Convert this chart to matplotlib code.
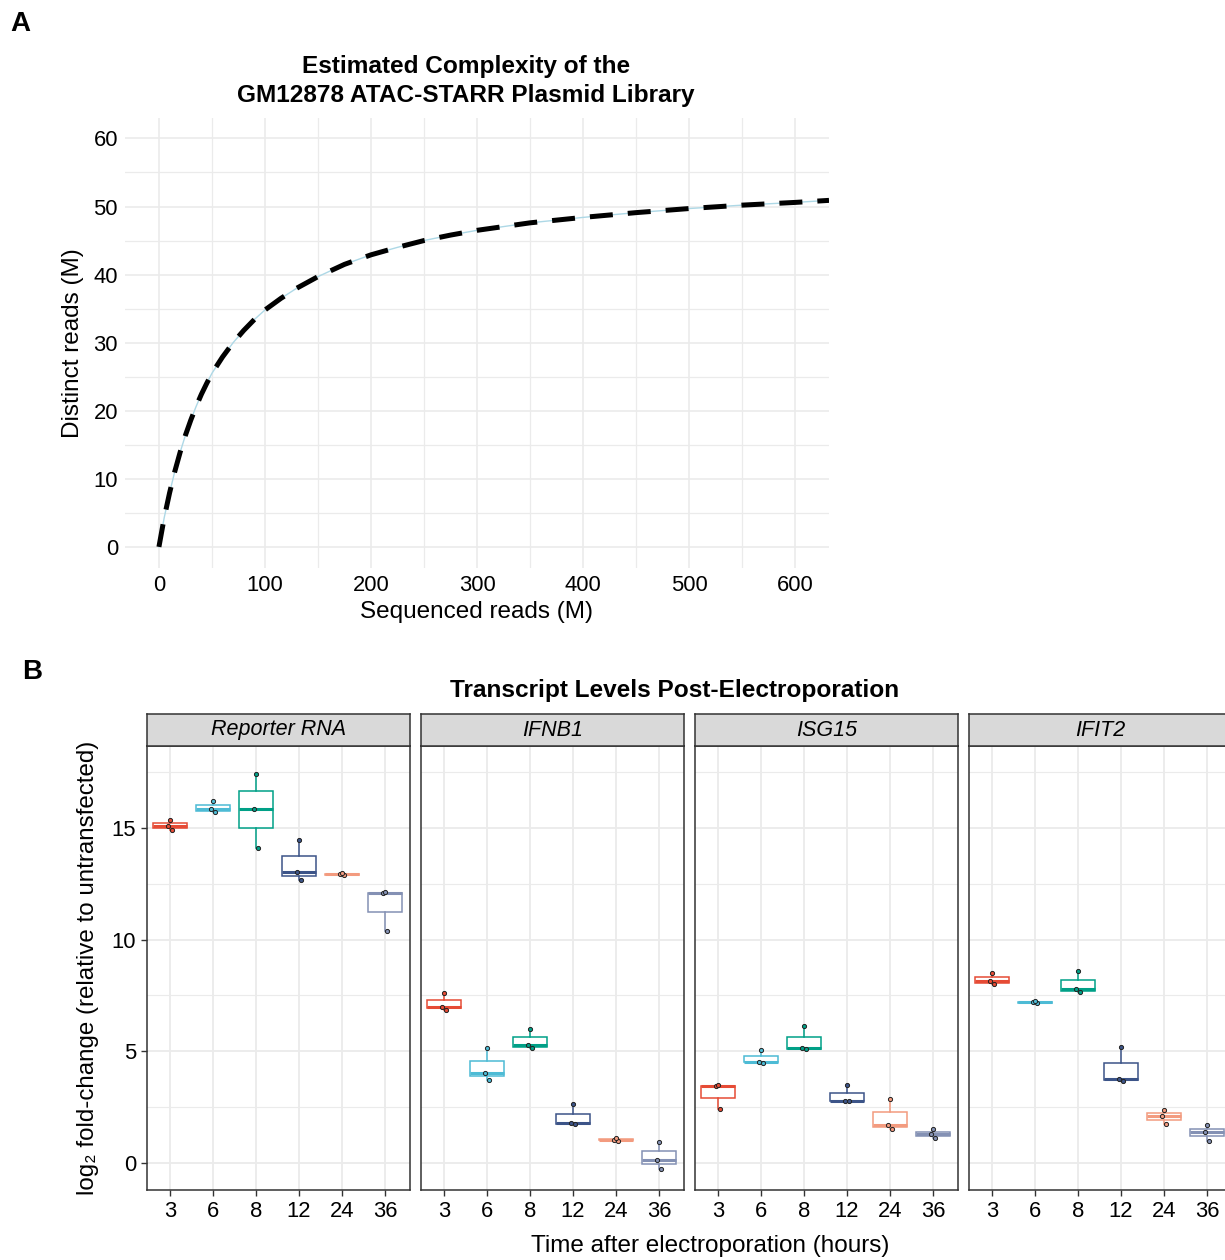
import matplotlib.pyplot as plt
from matplotlib.ticker import MultipleLocator

plt.rcParams['font.family'] = ['Liberation Sans', 'DejaVu Sans']

# Panel A: library complexity curve
seq_reads = [0, 5, 10, 15, 20, 25, 30, 35, 40, 45, 50, 60, 70, 80, 90, 100,
             115, 130, 150, 175, 200, 225, 250, 275, 300, 350, 400, 450, 500,
             550, 600, 632]
distinct_reads = [0, 4.3, 7.9, 11.1, 13.9, 16.4, 18.6, 20.6, 22.4, 24.0, 25.5,
                  27.9, 30.0, 31.8, 33.4, 34.8, 36.5, 38.0, 39.7, 41.5, 42.9,
                  44.0, 45.0, 45.8, 46.5, 47.6, 48.4, 49.1, 49.7, 50.2, 50.6, 50.9]

# Panel B: replicate values per gene and timepoint
timepoints = ['3', '6', '8', '12', '24', '36']
genes = ['Reporter RNA', 'IFNB1', 'ISG15', 'IFIT2']
tp_colors = ['#E64B35', '#4DBBD5', '#00A087', '#3C5488', '#F39B7F', '#8491B4']

reporter_vals = [[14.9, 15.1, 15.35], [15.7, 15.85, 16.2], [14.10, 15.86, 17.41],
                 [12.65, 13.04, 14.46], [12.88, 12.93, 12.97], [10.38, 12.07, 12.12]]
ifnb1_vals = [[6.85, 7.0, 7.6], [3.72, 4.04, 5.13], [5.15, 5.27, 6.01],
              [1.74, 1.79, 2.64], [1.0, 1.05, 1.1], [-0.25, 0.15, 0.93]]
isg15_vals = [[2.43, 3.43, 3.47], [4.48, 4.54, 5.06], [5.11, 5.14, 6.13],
              [2.76, 2.79, 3.5], [1.5, 1.72, 2.88], [1.12, 1.28, 1.52]]
ifit2_vals = [[8.0, 8.15, 8.5], [7.16, 7.2, 7.24], [7.65, 7.77, 8.61],
              [3.65, 3.76, 5.18], [1.75, 2.1, 2.37], [1.0, 1.39, 1.69]]
gene_vals = [reporter_vals, ifnb1_vals, isg15_vals, ifit2_vals]

W, H = 1225, 1260
fig = plt.figure(figsize=(W / 100, H / 100), dpi=100)


def rect(x0, y0, x1, y1):
    # pixel box -> figure fraction
    return [x0 / W, 1 - y1 / H, (x1 - x0) / W, (y1 - y0) / H]


grid_col = '#EBEBEB'

# ---- panel A ----
ax = fig.add_axes(rect(125, 118, 829, 568))
ax.plot(seq_reads, distinct_reads, color='#ADD8E6', lw=1.0, zorder=3)
ax.plot(seq_reads, distinct_reads, color='black', lw=3.6,
        linestyle=(0, (4.6, 3.0)), dash_capstyle='butt', zorder=4)
ax.set_xlim(-32, 632)
ax.set_ylim(-3.1, 63)
ax.xaxis.set_major_locator(MultipleLocator(100))
ax.xaxis.set_minor_locator(MultipleLocator(50))
ax.yaxis.set_major_locator(MultipleLocator(10))
ax.yaxis.set_minor_locator(MultipleLocator(5))
ax.grid(which='major', color=grid_col, lw=1.2)
ax.grid(which='minor', color=grid_col, lw=0.9)
ax.set_axisbelow(True)
for s in ax.spines.values():
    s.set_visible(False)
ax.tick_params(which='both', length=0, labelsize=15.8, labelcolor='black', pad=5)
ax.set_xlabel('Sequenced reads (M)', fontsize=17.5, labelpad=4)
ax.set_ylabel('Distinct reads (M)', fontsize=17.5, labelpad=7)
fig.text(466 / W, 1 - 81 / H, 'Estimated Complexity of the\nGM12878 ATAC-STARR Plasmid Library',
         ha='center', va='center', fontsize=17.6, fontweight='bold', linespacing=1.3)
fig.text(10 / W, 1 - 24 / H, 'A', fontsize=20, fontweight='bold', va='center')

# ---- panel B ----
fig.text(22 / W, 1 - 672 / H, 'B', fontsize=20, fontweight='bold', va='center')
fig.text(675 / W, 1 - 690 / H, 'Transcript Levels Post-Electroporation',
         ha='center', va='center', fontsize=17.6, fontweight='bold')

xs = list(range(1, len(timepoints) + 1))
jitter = [0.04, -0.05, 0.0]
for gi, gene in enumerate(genes):
    x0 = 147 + gi * 274
    bx = fig.add_axes(rect(x0, 746, x0 + 263, 1190))
    vals = gene_vals[gi]
    for ti, v in enumerate(vals):
        c = tp_colors[ti]
        bx.boxplot([v], positions=[xs[ti]], widths=0.78, whis=1.5,
                   patch_artist=True, showcaps=False, showfliers=False,
                   boxprops=dict(facecolor='white', edgecolor=c, lw=1.1),
                   medianprops=dict(color=c, lw=2.2),
                   whiskerprops=dict(color=c, lw=1.1), zorder=3)
        bx.scatter([xs[ti] + j for j in jitter], v, s=9,
                   facecolor=c, edgecolor='#222222', lw=0.7, zorder=4)
    bx.set_xlim(0.47, 6.58)
    bx.set_ylim(-1.21, 18.67)
    bx.set_xticks(xs)
    bx.set_xticklabels(timepoints)
    bx.yaxis.set_major_locator(MultipleLocator(5))
    bx.yaxis.set_minor_locator(MultipleLocator(2.5))
    bx.grid(which='major', color=grid_col, lw=1.3)
    bx.grid(which='minor', axis='y', color=grid_col, lw=0.8)
    bx.set_axisbelow(True)
    for s in bx.spines.values():
        s.set_color('#333333')
        s.set_linewidth(1.1)
    bx.tick_params(axis='both', which='major', length=4, width=1, color='#333333',
                   labelsize=15.8, labelcolor='black', pad=4)
    bx.tick_params(axis='y', which='minor', length=0)
    if gi > 0:
        bx.tick_params(axis='y', which='major', length=0, labelleft=False)
    else:
        bx.set_ylabel('log\u2082 fold-change (relative to untransfected)', fontsize=17.4, labelpad=9)

    st = fig.add_axes(rect(x0, 714, x0 + 263, 746))
    st.set_facecolor('#D9D9D9')
    st.set_xticks([])
    st.set_yticks([])
    for s in st.spines.values():
        s.set_color('#333333')
        s.set_linewidth(1.1)
    st.text(0.5, 0.5, gene, ha='center', va='center', fontsize=15.5,
            style='italic', transform=st.transAxes)

fig.text(710 / W, 1 - 1246 / H, 'Time after electroporation (hours)',
         ha='center', va='center', fontsize=17.5)

fig.savefig('out.png', dpi=100)
